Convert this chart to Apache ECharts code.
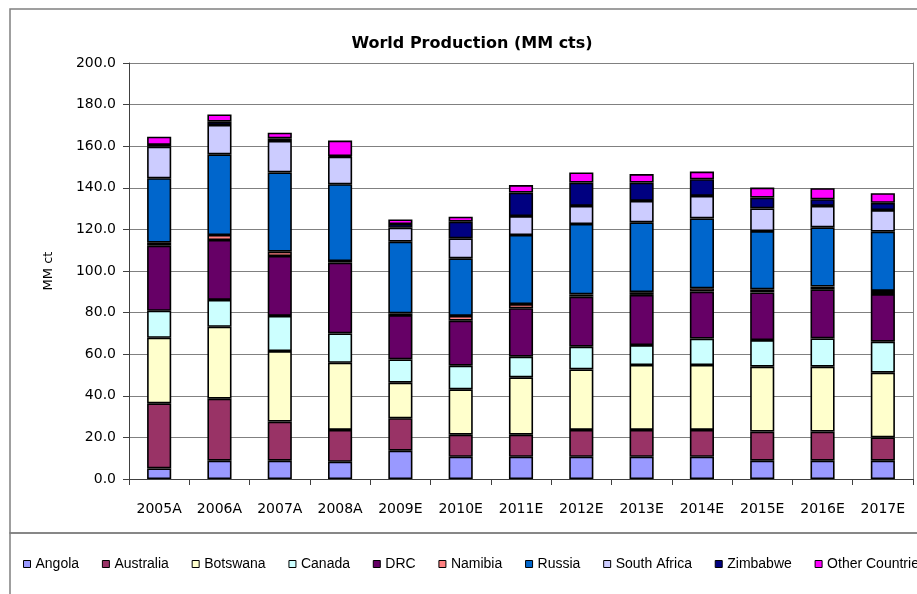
<!DOCTYPE html>
<html>
<head>
<meta charset="utf-8">
<script src="https://cdn.jsdelivr.net/npm/echarts@6/dist/echarts.min.js"></script>
<style>
html,body{margin:0;padding:0;background:#fff;}
#chart{width:917px;height:594px;}
</style>
</head>
<body>
<div id="chart"></div>
<script>
var categories = ['2005A','2006A','2007A','2008A','2009E','2010E','2011E','2012E','2013E','2014E','2015E','2016E','2017E'];
var yTicks = [0,20,40,60,80,100,120,140,160,180,200];

var angola      = [5.1, 8.8, 8.8, 8.3, 13.6, 10.7, 10.7, 10.7, 10.7, 10.7, 8.8, 8.8, 8.8];
var australia   = [31.3, 29.8, 18.8, 15.3, 15.6, 10.6, 10.6, 12.9, 12.9, 12.9, 14.0, 14.0, 11.2];
var botswana    = [31.5, 34.6, 33.9, 32.3, 17.1, 21.8, 27.6, 29.1, 31.2, 31.2, 31.2, 31.2, 31.1];
var canada      = [13.0, 12.9, 16.9, 14.1, 11.2, 11.4, 9.9, 10.9, 9.6, 12.7, 12.8, 13.6, 14.9];
var drc         = [31.3, 28.8, 28.8, 34.0, 21.3, 21.6, 23.3, 24.1, 24.1, 22.6, 22.9, 23.6, 22.9];
var namibia     = [1.4, 2.4, 2.1, 0.8, 0.8, 2.3, 2.0, 1.1, 1.3, 1.6, 1.5, 1.3, 1.5];
var russia      = [31.0, 38.8, 38.1, 36.9, 34.5, 27.7, 33.2, 33.8, 33.6, 33.6, 28.0, 28.5, 28.5];
var southAfrica = [15.2, 14.1, 15.1, 13.3, 6.7, 9.6, 9.1, 8.7, 10.3, 10.8, 10.9, 10.3, 10.4];
var zimbabwe    = [0.8, 1.6, 1.3, 0.3, 1.8, 8.0, 11.3, 11.2, 8.8, 8.0, 5.2, 3.2, 3.5];
var other       = [4.0, 3.5, 2.7, 7.4, 2.2, 2.4, 3.6, 4.9, 4.1, 3.7, 4.8, 5.3, 4.6];

var seriesNames = ['Angola','Australia','Botswana','Canada','DRC','Namibia','Russia','South Africa','Zimbabwe','Other Countries'];
var seriesData = [angola, australia, botswana, canada, drc, namibia, russia, southAfrica, zimbabwe, other];
var seriesColors = ['#9999FF','#993366','#FFFFCC','#CCFFFF','#660066','#FF8080','#0066CC','#CCCCFF','#000080','#FF00FF'];

var chart = echarts.init(document.getElementById('chart'));
var series = seriesNames.map(function(name, i){
  return {
    name: name,
    type: 'bar',
    stack: 'total',
    barWidth: '40%',
    data: seriesData[i],
    itemStyle: {color: seriesColors[i], borderColor: '#000', borderWidth: 1.6},
    emphasis: {disabled: true}
  };
});

chart.setOption({
  animation: false,
  backgroundColor: '#fff',
  title: {
    text: 'World Production (MM cts)',
    left: 467, top: 31, textAlign: 'center',
    textStyle: {fontFamily: 'DejaVu Sans', fontSize: 16, fontWeight: 'bold', color: '#000'}
  },
  graphic: [
    {type: 'rect', shape: {x: 10, y: 9, width: 940, height: 524}, style: {fill: 'none', stroke: '#808080', lineWidth: 1.5}, silent: true, z: -1},
    {type: 'rect', shape: {x: 10, y: 533, width: 940, height: 100}, style: {fill: 'none', stroke: '#808080', lineWidth: 1.5}, silent: true, z: -1}
  ],
  legend: {
    left: 18, top: 552, width: 1400, orient: 'horizontal',
    icon: 'rect', itemWidth: 7, itemHeight: 7, itemGap: 22.8,
    itemStyle: {borderWidth: 1, borderColor: '#000'},
    textStyle: {fontFamily: 'Liberation Sans', fontSize: 14, color: '#000'},
    data: seriesNames
  },
  grid: {left: 129, right: 4, top: 63, bottom: 115, containLabel: false},
  xAxis: {
    type: 'category',
    data: categories,
    axisLine: {lineStyle: {color: '#404040', width: 1}},
    axisTick: {show: true, length: 6, lineStyle: {color: '#404040'}},
    axisLabel: {fontFamily: 'DejaVu Sans', fontSize: 14, color: '#000', margin: 23, interval: 0}
  },
  yAxis: [{
    type: 'value', min: 0, max: 200, interval: 20,
    name: 'MM ct', nameLocation: 'middle', nameGap: 74, nameRotate: 90,
    nameTextStyle: {fontFamily: 'DejaVu Sans', fontSize: 13, color: '#000'},
    axisLine: {show: true, lineStyle: {color: '#404040', width: 1}},
    axisTick: {show: true, length: 6, lineStyle: {color: '#404040'}},
    axisLabel: {fontFamily: 'DejaVu Sans', fontSize: 14, color: '#000', margin: 13,
      formatter: function(v){ return v.toFixed(1); }},
    splitLine: {show: true, lineStyle: {color: '#808080', width: 1}}
  }, {
    type: 'value', min: 0, max: 200, interval: 20, position: 'right',
    axisLine: {show: true, lineStyle: {color: '#808080', width: 1}},
    axisTick: {show: false}, axisLabel: {show: false}, splitLine: {show: false}
  }],
  series: series
});
</script>
</body>
</html>
